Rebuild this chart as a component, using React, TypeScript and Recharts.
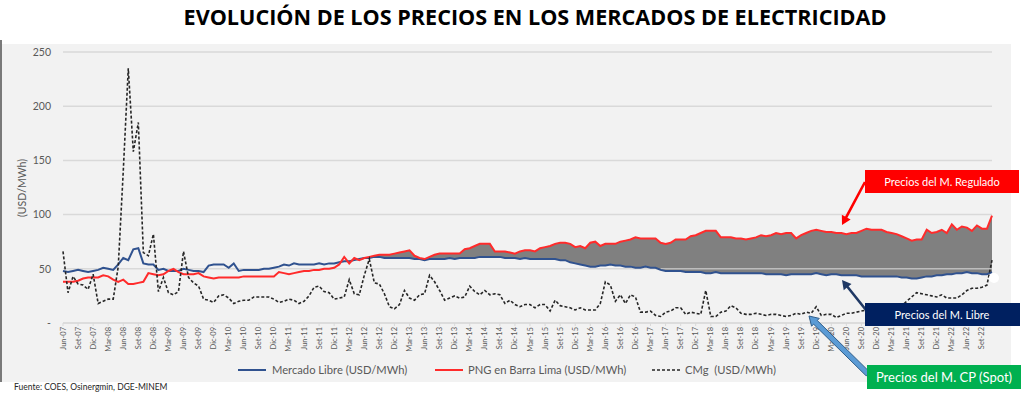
import React from 'react';
import { ComposedChart, Line, Area, XAxis, YAxis, CartesianGrid, ReferenceLine } from 'recharts';

const MESES = ['Ene', 'Feb', 'Mar', 'Abr', 'May', 'Jun', 'Jul', 'Ago', 'Set', 'Oct', 'Nov', 'Dic'];

// monthly categories, Jun-07 .. Nov-22
const meses: string[] = [];
for (let i = 0; i < 186; i++) {
  const k = 5 + i;
  meses.push(`${MESES[k % 12]}-${String(7 + Math.floor(k / 12)).padStart(2, '0')}`);
}

// Mercado Libre (USD/MWh)
const libre = [
  48, 47, 48, 49, 48, 47, 48,
  49, 51, 50, 49, 54, 60, 58, 68, 69, 55, 54, 54,
  49, 50, 48, 48, 48, 50, 49, 48, 48, 47, 53, 54,
  54, 54, 51, 55, 48, 49, 49, 49, 49, 50, 50, 51,
  52, 54, 53, 55, 54, 54, 54, 54, 55, 54, 55, 55,
  56, 57, 57, 58, 59, 60, 60, 61, 61, 60, 60, 60,
  60, 60, 60, 59, 59, 58, 59, 59, 59, 59, 60, 59,
  60, 60, 60, 60, 61, 61, 61, 61, 61, 60, 60, 60,
  59, 60, 59, 59, 59, 59, 59, 59, 58, 58, 56, 55,
  54, 53, 52, 52, 53, 53, 54, 53, 53, 52, 52, 51,
  51, 52, 51, 51, 49, 48, 48, 48, 48, 47, 47, 47,
  47, 46, 46, 47, 46, 46, 46, 46, 46, 46, 46, 46,
  46, 45, 45, 45, 45, 44, 45, 45, 45, 45, 45, 46,
  45, 44, 45, 45, 44, 44, 44, 44, 43, 43, 43, 43,
  43, 43, 43, 43, 42, 42, 41, 41, 42, 43, 43, 44,
  44, 45, 45, 46, 46, 47, 46, 46, 45, 45, 47,
];

// PNG en Barra Lima (USD/MWh)
const png = [
  38, 38, 38, 39, 41, 42, 42,
  42, 44, 43, 40, 38, 40, 36, 36, 37, 38, 46, 45,
  44, 45, 48, 50, 47, 45, 45, 45, 46, 43, 42, 41,
  42, 42, 42, 42, 42, 43, 43, 43, 43, 43, 43, 43,
  47, 46, 45, 46, 47, 48, 48, 49, 49, 50, 50, 51,
  54, 61, 55, 60, 58, 60, 61, 62, 63, 63, 63, 64,
  65, 66, 67, 62, 60, 59, 61, 63, 64, 64, 64, 64,
  64, 68, 69, 71, 73, 73, 73, 66, 66, 66, 65, 64,
  66, 67, 67, 66, 69, 70, 71, 73, 74, 74, 73, 70,
  71, 69, 74, 75, 71, 73, 73, 73, 75, 76, 77, 79,
  78, 78, 78, 78, 74, 73, 74, 77, 77, 77, 80, 81,
  83, 85, 85, 85, 79, 79, 79, 78, 78, 77, 78, 79,
  81, 80, 81, 83, 82, 83, 83, 78, 81, 83, 85, 86,
  85, 84, 84, 83, 83, 82, 83, 83, 85, 87, 86, 86,
  86, 84, 83, 82, 80, 78, 76, 77, 77, 86, 83, 84,
  86, 83, 91, 86, 89, 88, 85, 90, 87, 87, 99,
];

// CMg (USD/MWh)
const cmg = [
  66, 28, 43, 36, 35, 31, 45,
  18, 20, 22, 22, 52, 140, 235, 158, 185, 65, 62, 82,
  29, 42, 28, 26, 29, 66, 42, 37, 34, 22, 21, 19,
  25, 26, 23, 18, 20, 21, 21, 24, 24, 24, 24, 22,
  19, 20, 22, 21, 18, 20, 25, 33, 34, 29, 28, 22,
  23, 24, 40, 27, 26, 44, 59, 37, 36, 27, 15, 13,
  17, 30, 23, 21, 26, 27, 44, 38, 30, 21, 23, 25,
  23, 24, 34, 29, 26, 30, 26, 27, 26, 18, 21, 17,
  15, 17, 17, 14, 17, 17, 11, 21, 16, 15, 14, 12,
  14, 12, 12, 12, 18, 38, 35, 20, 26, 18, 26, 24,
  10, 10, 11, 7, 6, 10, 11, 14, 14, 8, 10, 9,
  8, 30, 6, 6, 10, 11, 16, 14, 9, 8, 8, 9,
  8, 7, 8, 8, 7, 6, 7, 9, 8, 10, 9, 15,
  7, 8, 8, 5, 7, 9, 9, 10, 11, 12, 11, 12,
  13, 12, 12, 14, 16, 20, 24, 28, 27, 26, 25, 24,
  26, 23, 23, 23, 26, 30, 32, 32, 33, 35, 58,
];

const Y_TICKS = [0, 50, 100, 150, 200, 250];
const FILL_DESDE = 'Jun-12';
const SERIES = ['Mercado Libre (USD/MWh)', 'PNG en Barra Lima (USD/MWh)', 'CMg  (USD/MWh)'];

const inicio = meses.indexOf(FILL_DESDE);
const rows = meses.map((mes, i) => ({
  mes,
  libre: libre[i],
  png: png[i],
  cmg: cmg[i],
  rango: i >= inicio ? [libre[i], png[i]] : null,
}));

const MonthTick = (props: any) => {
  const { x, y, payload } = props;
  return (
    <text
      x={x}
      y={y}
      transform={`rotate(-90 ${x} ${y})`}
      textAnchor="end"
      dominantBaseline="central"
      fontSize={7.5}
      fill="#595959"
      fontFamily="Lato, sans-serif"
    >
      {payload.value}
    </text>
  );
};

function blockArrow(x1: number, y1: number, x2: number, y2: number, shaft: number, head: number, headLen: number) {
  const dx = x2 - x1, dy = y2 - y1;
  const L = Math.hypot(dx, dy);
  const ux = dx / L, uy = dy / L;
  const nx = -uy, ny = ux;
  const bx = x2 - ux * headLen, by = y2 - uy * headLen;
  const pts = [
    [x1 + nx * shaft, y1 + ny * shaft],
    [bx + nx * shaft, by + ny * shaft],
    [bx + nx * head, by + ny * head],
    [x2, y2],
    [bx - nx * head, by - ny * head],
    [bx - nx * shaft, by - ny * shaft],
    [x1 - nx * shaft, y1 - ny * shaft],
  ];
  return pts.map((p) => p.join(',')).join(' ');
}

export default function App() {
  return (
    <div style={{ position: 'relative', width: 1024, height: 395, background: '#fff', overflow: 'hidden', fontFamily: 'Lato, sans-serif' }}>
      <style>{'body{margin:0}'}</style>
      <div
        style={{
          position: 'absolute', left: 46, top: 0, width: 978, textAlign: 'center',
          fontFamily: '"Open Sans", sans-serif', fontWeight: 700, fontSize: 21.6, lineHeight: '34px', color: '#000',
        }}
      >
        EVOLUCIÓN DE LOS PRECIOS EN LOS MERCADOS DE ELECTRICIDAD
      </div>
      <div style={{ position: 'absolute', left: 2, top: 44, width: 1009, height: 338, background: '#f2f2f2' }} />
      <div style={{ position: 'absolute', left: 0, top: 40, width: 2, height: 342, background: '#7a7a7a' }} />

      <div style={{ position: 'absolute', left: 0, top: 0 }}>
        <ComposedChart width={1010} height={395} data={rows} margin={{ top: 52, right: 18, left: 13, bottom: 38 }}>
          <CartesianGrid vertical={false} stroke="#d9d9d9" strokeWidth={1.5} />
          <XAxis
            dataKey="mes"
            interval={2}
            tick={<MonthTick />}
            tickSize={3}
            tickMargin={1}
            height={34}
            axisLine={{ stroke: '#d9d9d9' }}
            tickLine={{ stroke: '#d9d9d9' }}
          />
          <YAxis
            domain={[0, 250]}
            ticks={Y_TICKS}
            width={50}
            axisLine={false}
            tickLine={false}
            tickMargin={6}
            tickFormatter={(v: number) => (v === 0 ? '-' : String(v))}
            tick={{ fontSize: 10.5, fill: '#595959', fontFamily: 'Lato, sans-serif' }}
          />
          <Area
            dataKey="rango"
            stroke="none"
            fill="#808080"
            fillOpacity={1}
            dot={false}
            activeDot={false}
            isAnimationActive={false}
          />
          <ReferenceLine
            segment={[{ x: 'May-17', y: 50 }, { x: 'Nov-22', y: 50 }]}
            stroke="#bdbdbd"
            strokeWidth={1.5}
          />
          <Line dataKey="libre" stroke="#30528f" strokeWidth={2} dot={false} activeDot={false} isAnimationActive={false} />
          <Line dataKey="png" stroke="#ff2b2b" strokeWidth={2} dot={false} activeDot={false} isAnimationActive={false} />
          <Line dataKey="cmg" stroke="#262626" strokeWidth={1.6} strokeDasharray="3 2" dot={false} activeDot={false} isAnimationActive={false} />
        </ComposedChart>
      </div>

      <svg width={1024} height={395} style={{ position: 'absolute', left: 0, top: 0, pointerEvents: 'none' }}>
        <text transform="translate(26,188) rotate(-90)" textAnchor="middle" fontSize={10.5} fill="#595959" fontFamily="Lato, sans-serif">
          (USD/MWh)
        </text>

        {/* legend */}
        <line x1={238} y1={370} x2={266} y2={370} stroke="#30528f" strokeWidth={2} />
        <text x={272} y={374} fontSize={11.2} fill="#595959">{SERIES[0]}</text>
        <line x1={435} y1={370} x2={463} y2={370} stroke="#ff2b2b" strokeWidth={2} />
        <text x={468} y={374} fontSize={11.2} fill="#595959">{SERIES[1]}</text>
        <line x1={652} y1={370} x2={680} y2={370} stroke="#262626" strokeWidth={1.6} strokeDasharray="3 2" />
        <text x={685} y={374} fontSize={11.2} fill="#595959" style={{ whiteSpace: 'pre' }}>{SERIES[2]}</text>

        <text x={14} y={390} fontSize={8.5} fill="#262626">Fuente: COES, Osinergmin, DGE-MINEM</text>

        <circle cx={994} cy={278} r={5} fill="#fff" />

        {/* annotations */}
        <polygon points={blockArrow(865, 182, 842, 225, 1.3, 5, 9)} fill="#ff0000" />
        <rect x={865} y={170} width={154} height={23} fill="#ff0000" />
        <text x={942} y={185.5} textAnchor="middle" fontSize={11} fill="#fff">Precios del M. Regulado</text>

        <polygon points={blockArrow(866, 310, 842, 280, 1.3, 5, 9)} fill="#1f3864" />
        <rect x={865} y={303} width={155} height={23} fill="#002060" />
        <text x={942} y={318.5} textAnchor="middle" fontSize={11} fill="#fff">Precios del M. Libre</text>

        <polygon points={blockArrow(868, 374, 809, 316, 2.6, 5.5, 9)} fill="#5b9bd5" stroke="#2e5d8a" strokeWidth={1} />
        <rect x={867} y={365} width={154} height={24} fill="#00b050" />
        <text x={944} y={381.5} textAnchor="middle" fontSize={13} fill="#fff">Precios del M. CP (Spot)</text>
      </svg>
    </div>
  );
}
